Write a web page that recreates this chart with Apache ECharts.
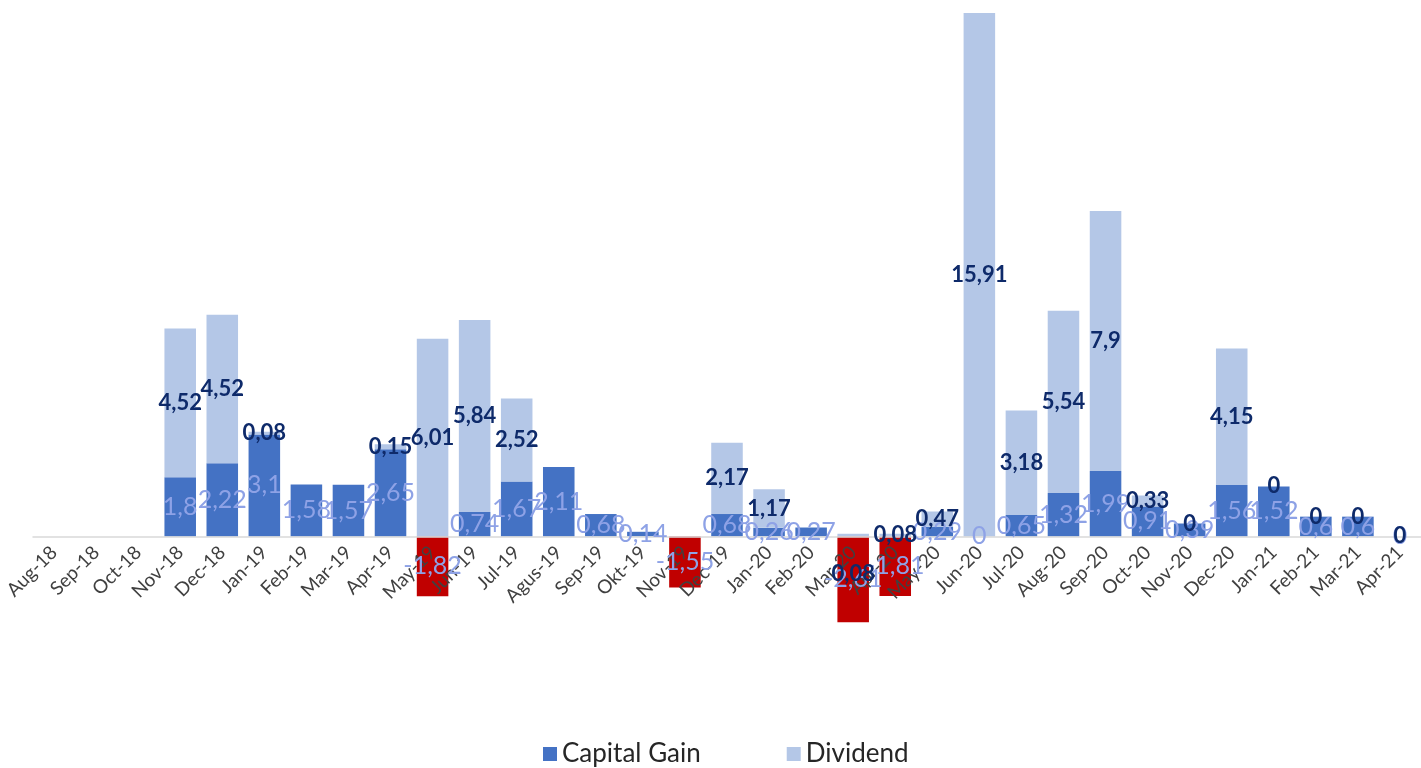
<!DOCTYPE html>
<html><head><meta charset="utf-8">
<script src="https://cdn.jsdelivr.net/npm/echarts@6/dist/echarts.min.js"></script>
<style>html,body{margin:0;padding:0;background:#fff}#c{width:1421px;height:768px}</style>
</head><body><div id="c"></div>
<script>
const categories = ['Aug-18','Sep-18','Oct-18','Nov-18','Dec-18','Jan-19','Feb-19','Mar-19','Apr-19','May-19','Jun-19','Jul-19','Agus-19','Sep-19','Okt-19','Nov-19','Dec-19','Jan-20','Feb-20','Mar-20','Apr-20','May-20','Jun-20','Jul-20','Aug-20','Sep-20','Oct-20','Nov-20','Dec-20','Jan-21','Feb-21','Mar-21','Apr-21'];
const capitalGain = [null,null,null,1.8,2.22,3.1,1.58,1.57,2.65,-1.82,0.74,1.67,2.11,0.68,0.14,-1.55,0.68,0.26,0.27,-2.61,-1.81,0.29,0,0.65,1.32,1.99,0.91,0.39,1.56,1.52,0.6,0.6,0];
const dividend = [null,null,null,4.52,4.52,0.08,null,null,0.15,6.01,5.84,2.52,null,null,null,null,2.17,1.17,null,0.08,0.08,0.47,15.91,3.18,5.54,7.9,0.33,0,4.15,0,0,0,0];
const seriesNames = ['Capital Gain','Dividend'];

const fmt = p => p.value == null ? '' : String(p.value).replace('.', ',');
const cgData = capitalGain.map(v => v != null && v < 0 ? {value: v, itemStyle: {color: '#C00000'}} : v);
const dvData = dividend.map((v, i) => categories[i] === 'Mar-20' ? {value: v, label: {offset: [0, 39]}} : v);
const font = 'Lato, "Open Sans", sans-serif';

const yMin = -4, yMax = 16, gridTop = 10, gridBottom = 100;
const plotH = 768 - gridTop - gridBottom;
const zeroFromBottom = plotH * (0 - yMin) / (yMax - yMin);

const cgLabel = {show: true, position: 'inside', formatter: fmt, color: '#8EA2E6', fontSize: 25, fontFamily: font};
const dvLabel = {show: true, position: 'inside', formatter: fmt, color: '#0E2A6A', fontSize: 22, fontWeight: 'bold', fontFamily: font};
const clear = {color: 'rgba(0,0,0,0)'};

const chart = echarts.init(document.getElementById('c'));
chart.setOption({
  animation: false,
  textStyle: {fontFamily: font},
  grid: {left: 33, right: -11, top: gridTop, bottom: gridBottom},
  legend: {
    bottom: -4, left: 538, icon: 'rect', itemWidth: 14, itemHeight: 14, itemGap: 86,
    textStyle: {fontSize: 26, color: '#262626', fontFamily: font},
    data: [{name: seriesNames[0], itemStyle: {color: '#4472C4'}}, {name: seriesNames[1], itemStyle: {color: '#B4C7E7'}}]
  },
  xAxis: {
    type: 'category', data: categories, position: 'bottom', offset: -zeroFromBottom, z: 5,
    axisLine: {onZero: false, lineStyle: {color: '#D9D9D9', width: 1.5}},
    axisTick: {show: false},
    axisLabel: {rotate: 45, interval: 0, fontSize: 19, color: '#404040', fontFamily: font, margin: 13}
  },
  yAxis: {type: 'value', min: yMin, max: yMax, show: false, splitLine: {show: false}},
  series: [
    {
      name: seriesNames[0], type: 'bar', stack: 'total', barCategoryGap: '25%', z: 2,
      itemStyle: {color: '#4472C4'}, label: {show: false}, data: cgData
    },
    {
      name: seriesNames[1], type: 'bar', stack: 'total', barCategoryGap: '25%', z: 2,
      itemStyle: {color: '#B4C7E7'}, label: {show: false}, data: dvData
    },
    {
      name: 'cg-labels', type: 'bar', stack: 'labels', barGap: '-100%', barCategoryGap: '25%', z: 10, silent: true,
      itemStyle: clear, label: cgLabel, data: capitalGain
    },
    {
      name: 'dv-labels', type: 'bar', stack: 'labels', barCategoryGap: '25%', z: 10, silent: true,
      itemStyle: clear, label: dvLabel, data: dvData
    }
  ]
});
</script></body></html>
